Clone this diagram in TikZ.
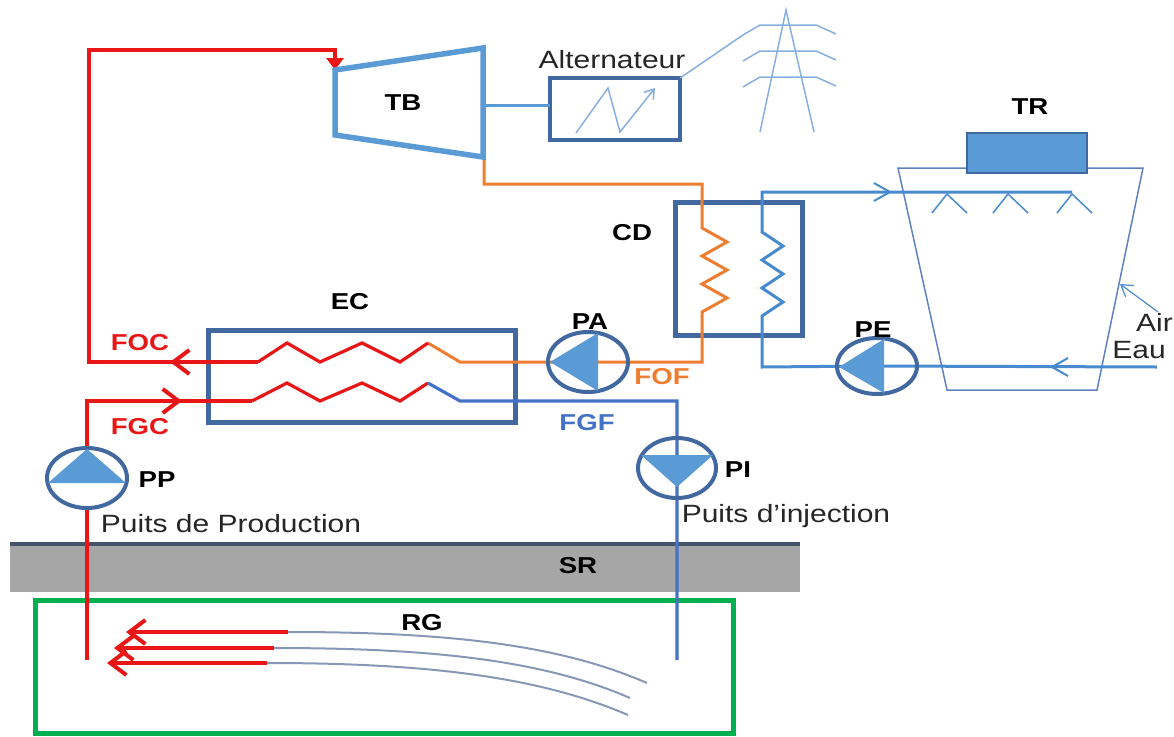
\documentclass[tikz,border=0pt]{standalone}
\usepackage{fontspec}
\setmainfont{Liberation Sans}[FakeStretch=1.2]
\usetikzlibrary{arrows.meta,calc}

\definecolor{hotred}{RGB}{232,22,22}
\definecolor{warmorange}{RGB}{237,125,49}
\definecolor{lightblue}{RGB}{91,155,213}
\definecolor{frameblue}{RGB}{65,105,160}
\definecolor{fgfblue}{RGB}{68,114,196}
\definecolor{coolblue}{RGB}{72,138,208}
\definecolor{towerblue}{RGB}{95,130,190}
\definecolor{pylonblue}{RGB}{135,175,225}
\definecolor{rockgray}{RGB}{166,166,166}
\definecolor{rockline}{RGB}{68,84,106}
\definecolor{resgreen}{RGB}{0,176,80}
\definecolor{flowgray}{RGB}{135,152,182}

\newcommand\labfont{\bfseries\fontsize{23}{23}\selectfont}
\newcommand\txtfont{\fontsize{25}{25}\selectfont}

\begin{document}
\begin{tikzpicture}[x=1pt,y=-1pt,
  lab/.style={font=\labfont,text=black,inner sep=0pt},
  txt/.style={font=\txtfont,text=black!85,inner sep=0pt},
  hot/.style={draw=hotred,line width=4.5pt},
  coil/.style={line width=3.2pt},
  warm/.style={draw=warmorange,line width=3pt},
  fgf/.style={draw=fgfblue,line width=3.2pt},
  cool/.style={draw=coolblue,line width=3pt},
  frame/.style={draw=frameblue,line width=5pt,inner sep=0pt,outer sep=0pt},
  pumpline/.style={draw=frameblue,line width=4pt},
  pumpfill/.style={fill=lightblue},
  barb/.style={-{Straight Barb[length=16pt,width=24pt]}},
  thinbarb/.style={-{Straight Barb[length=16pt,width=18pt]}},
  fine/.style={line width=1.5pt}]
\useasboundingbox (0,0) rectangle (1174,736);

% ---------- ground layers ----------
\node[fill=rockgray,minimum width=790pt,minimum height=48pt,inner sep=0pt] (sr) at (405,568) {};
\coordinate (srL) at (10,544);
\coordinate (srR) at (800,544);
\draw[draw=rockline,line width=4pt] (srL) -- (srR);
\node[lab] (srlab) at (578,566) {SR};

\node[draw=resgreen,line width=5pt,minimum width=698pt,minimum height=133pt,inner sep=0pt] (rg) at (384,666.5) {};
\node[lab] (rglab) at (422,623) {RG};

% reservoir flow lines
\coordinate (f1s) at (288,632); \coordinate (f1t) at (126,632); \coordinate (f1e) at (647,683);
\coordinate (f2s) at (274,648); \coordinate (f2t) at (114,648); \coordinate (f2e) at (630,698);
\coordinate (f3s) at (267,663); \coordinate (f3t) at (107,663); \coordinate (f3e) at (628,715);
\draw[draw=flowgray,line width=2pt] (f1s) .. controls (450,632) and (560,645) .. (f1e);
\draw[draw=flowgray,line width=2pt] (f2s) .. controls (436,648) and (545,661) .. (f2e);
\draw[draw=flowgray,line width=2pt] (f3s) .. controls (428,663) and (540,677) .. (f3e);
\draw[hotred,line width=4pt,barb] (f1s) -- (f1t);
\draw[hotred,line width=4pt,barb] (f2s) -- (f2t);
\draw[hotred,line width=4pt,barb] (f3s) -- (f3t);

% ---------- pumps ----------
\coordinate (pa) at (588,362);
\coordinate (pe) at (877,366);
\coordinate (pp) at (87,478);
\coordinate (pi) at (677,468);

% ---------- turbine ----------
\coordinate (tbTL) at (335,70);
\coordinate (tbTR) at (483,48);
\coordinate (tbBR) at (483,157);
\coordinate (tbBL) at (335,135);
\coordinate (tbShaft) at (483,105);
\coordinate (tbOut) at (484,157);
\node[lab] (tb) at (403,103) {TB};

% ---------- alternator and grid ----------
\node[frame,line width=4pt,minimum width=130pt,minimum height=62pt] (alt) at (615,109) {};
\node[txt] (altlab) at (612,60) {Alternateur};
\draw[draw=lightblue,line width=3pt] (tbShaft) -- (tbShaft -| alt.west);
\coordinate (z1) at (576,133); \coordinate (z2) at (608,88);
\coordinate (z3) at (620,132); \coordinate (z4) at (655,88);
\draw[draw=pylonblue,fine,-{Straight Barb[length=9pt,width=12pt]}] (z1) -- (z2) -- (z3) -- (z4);

\coordinate (pyTop) at (786,10);
\coordinate (pyL) at (760,132);
\coordinate (pyR) at (814,132);
\draw[draw=pylonblue,fine] (pyL) -- (pyTop) -- (pyR);
\foreach \yy/\nm in {25/a,51/b,77/c}{
  \coordinate (arm\nm L) at (743,\yy+10);
  \coordinate (arm\nm R) at (836,\yy+9);
  \draw[draw=pylonblue,fine] (arm\nm L) -- (760,\yy) -- (816,\yy) -- (arm\nm R);
}
\draw[draw=pylonblue,fine] (alt.north east) -- (armaL);

% ---------- condenser ----------
\node[frame,minimum width=127pt,minimum height=133pt] (cd) at (738.5,268.5) {};
\node[lab] (cdlab) at (632,233) {CD};

% ---------- evaporator ----------
\node[frame,minimum width=307pt,minimum height=92pt] (ec) at (361.5,376) {};
\node[lab] (eclab) at (350,302) {EC};

% ---------- cooling tower ----------
\coordinate (twTL) at (898,168);
\coordinate (twTR) at (1143,168);
\coordinate (twBR) at (1097,390);
\coordinate (twBL) at (947,390);
\draw[draw=towerblue,fine] (twTL) -- (twTR) -- (twBR) -- (twBL) -- cycle;
\node[fill=lightblue,draw=frameblue,line width=1.5pt,minimum width=120pt,minimum height=40pt,inner sep=0pt] (tr) at (1027,153) {};
\node[lab] (trlab) at (1030,107) {TR};

% ---------- organic fluid loop (cold part, orange) ----------
\coordinate (oc1) at (484,184);
\coordinate (oc2) at (702,184);
\coordinate (oz0) at (702,228);
\coordinate (oz6) at (702,312);
\coordinate (oc3) at (702,362);
\coordinate (ecO1) at (460,362);
\coordinate (ecO0) at (428,343);
\draw[warm] (tbOut) -- (oc1) -- (oc2) -- (oz0)
  -- (727,242) -- (702,256) -- (727,270) -- (702,284) -- (727,298) -- (oz6)
  -- (oc3) -- (pa) -- (ecO1) -- (ecO0);

% ---------- cooling water loop ----------
\coordinate (eauIn) at (1157,367);
\coordinate (wArrow) at (1050,367);
\coordinate (cw1) at (762,367);
\coordinate (cz0) at (762,316);
\coordinate (cz6) at (762,232);
\coordinate (cw2) at (762,192);
\coordinate (cArrow) at (892,192);
\coordinate (spray) at (1072,192);
\draw[cool] (eauIn) -- (pe) -- (cw1) -- (cz0)
  -- (783,302) -- (762,288) -- (783,274) -- (762,260) -- (783,246) -- (cz6)
  -- (cw2) -- (spray);
\draw[draw=coolblue,line width=2pt,thinbarb] (eauIn) -- (wArrow);
\draw[draw=coolblue,line width=2pt,thinbarb] (cw2) -- (cArrow);
\foreach \sx/\nm in {947/a,1008/b,1072/c}{
  \coordinate (nz\nm) at (\sx,194);
  \draw[draw=coolblue,fine] (\sx-15,213) -- (nz\nm) -- (\sx+20,213);
}
\coordinate (airFrom) at (1158,312);
\coordinate (airTo) at (1120,284);
\draw[draw=coolblue,line width=1.2pt,-{Straight Barb[length=11pt,width=14pt]}] (airFrom) -- (airTo);
\node[txt,anchor=west] (airlab) at (1136,322) {Air};
\node[txt] (eaulab) at (1139,350) {Eau};

% ---------- organic fluid loop (hot part, red) ----------
\coordinate (ecH0) at (258,362);
\coordinate (focTip) at (170,362);
\coordinate (rc1) at (89,362);
\coordinate (rc2) at (89,50);
\coordinate (rc3) at (335,50);
\draw[hot] (ecH0) -- (rc1) -- (rc2) -- (rc3) -- (335,60);
\draw[hotred,line width=4pt,-{Triangle[length=12pt,width=17pt]}] (335,56) -- (tbTL);
\draw[hotred,line width=4pt,barb] (ecH0) -- (focTip);
\draw[draw=hotred,coil] (ecH0) -- (287,343) -- (320,362) -- (362,343) -- (400,362) -- (ecO0);

% ---------- geothermal brine loop ----------
\coordinate (pw1) at (87,660);
\coordinate (g1) at (87,401);
\coordinate (fgcTip) at (182,401);
\coordinate (ecG0) at (252,401);
\coordinate (ecG5) at (428,383);
\coordinate (ecG6) at (460,401);
\coordinate (g2) at (677,401);
\coordinate (iw1) at (677,660);
\draw[hot] (pw1) -- (pp);
\draw[hot] (pp) -- (g1) -- (ecG0);
\draw[hotred,line width=4pt,barb] (g1) -- (fgcTip);
\draw[draw=hotred,coil] (ecG0) -- (287,383) -- (320,401) -- (362,383) -- (400,401) -- (ecG5);
\draw[fgf] (ecG5) -- (ecG6) -- (g2) -- (iw1);

% pump bodies
\draw[pumpline,fill=white] (pp) ellipse [x radius=40,y radius=30];
\fill[pumpfill] ($(pp)+(0,-29)$) -- ($(pp)+(-39,5)$) -- ($(pp)+(39,5)$) -- cycle;
\draw[pumpline] (pi) ellipse [x radius=39,y radius=30];
\fill[pumpfill] ($(pi)+(0,19)$) -- ($(pi)+(-36,-13)$) -- ($(pi)+(36,-13)$) -- cycle;
\draw[pumpline] (pa) ellipse [x radius=40,y radius=30];
\fill[pumpfill] ($(pa)+(-38,0)$) -- ($(pa)+(10,-29)$) -- ($(pa)+(10,29)$) -- cycle;
\draw[pumpline] (pe) ellipse [x radius=40,y radius=28];
\fill[pumpfill] ($(pe)+(-38,1)$) -- ($(pe)+(7,-27)$) -- ($(pe)+(7,27)$) -- cycle;

% turbine body on top of pipes
\draw[draw=lightblue,line width=5.5pt,line join=miter] (tbTL) -- (tbTR) -- (tbBR) -- (tbBL) -- cycle;

% ---------- labels ----------
\node[lab] (palab) at (590,322) {PA};
\node[lab] (pelab) at (873,330) {PE};
\node[lab] (pplab) at (157,480) {PP};
\node[lab] (pilab) at (738,470) {PI};
\node[lab,text=hotred] (foc) at (140,343) {FOC};
\node[lab,text=hotred] (fgc) at (140,427) {FGC};
\node[lab,text=warmorange] (fof) at (662,377) {FOF};
\node[lab,text=fgfblue] (fgflab) at (587,423) {FGF};
\node[txt] (puitsP) at (231,524) {Puits de Production};
\node[txt] (puitsI) at (786,516) {Puits d'injection};
\end{tikzpicture}
\end{document}
